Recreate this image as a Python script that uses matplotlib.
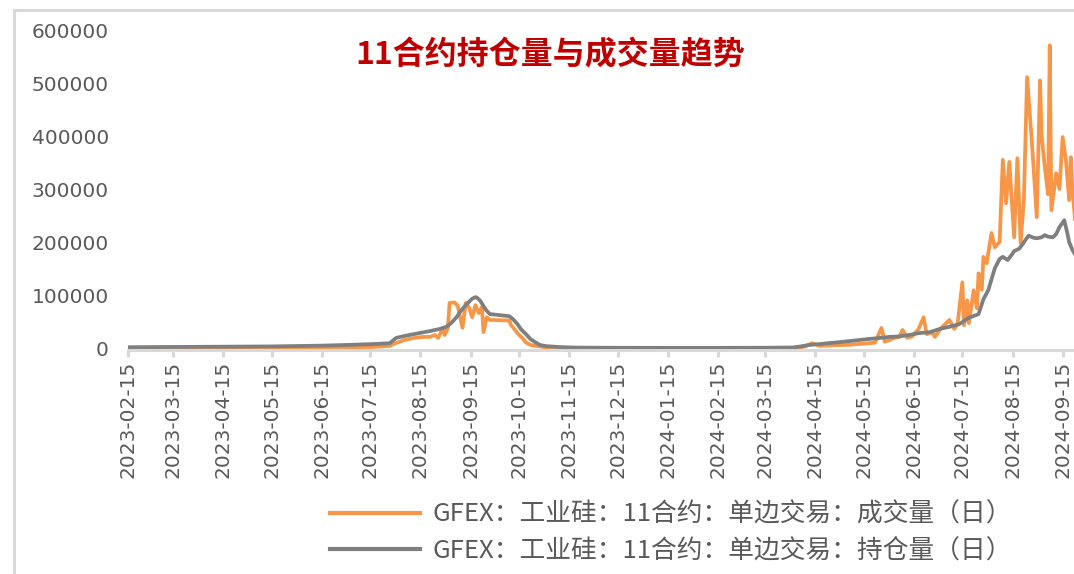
import matplotlib
matplotlib.use("Agg")
import matplotlib.pyplot as plt
import matplotlib.dates as mdates
from matplotlib.lines import Line2D
from matplotlib.font_manager import FontProperties
import pandas as pd

# 持仓量 (open interest)
oi_dates = [
    "2023-02-15", "2023-03-15", "2023-04-14", "2023-05-15", "2023-06-15",
    "2023-07-03", "2023-07-17", "2023-07-27", "2023-07-31", "2023-08-04",
    "2023-08-08", "2023-08-14", "2023-08-21", "2023-08-27", "2023-08-31",
    "2023-09-03", "2023-09-06", "2023-09-09", "2023-09-12", "2023-09-16",
    "2023-09-18", "2023-09-19", "2023-09-21", "2023-09-23", "2023-09-25",
    "2023-09-27", "2023-10-09", "2023-10-11", "2023-10-12", "2023-10-14",
    "2023-10-16", "2023-10-19", "2023-10-22", "2023-10-25", "2023-10-28",
    "2023-11-01", "2023-11-09", "2023-11-20", "2023-12-15", "2024-01-15",
    "2024-02-15", "2024-03-15", "2024-04-01", "2024-04-05", "2024-04-11",
    "2024-04-18", "2024-04-24", "2024-04-30", "2024-05-06", "2024-05-12",
    "2024-05-18", "2024-05-25", "2024-05-31", "2024-06-06", "2024-06-12",
    "2024-06-18", "2024-06-25", "2024-07-01", "2024-07-07", "2024-07-13",
    "2024-07-19", "2024-07-25", "2024-07-28", "2024-07-31", "2024-08-04",
    "2024-08-07", "2024-08-09", "2024-08-12", "2024-08-15", "2024-08-16",
    "2024-08-19", "2024-08-21", "2024-08-23", "2024-08-25", "2024-08-28",
    "2024-08-30", "2024-09-02", "2024-09-04", "2024-09-06", "2024-09-09",
    "2024-09-11", "2024-09-13", "2024-09-16", "2024-09-18", "2024-09-19",
    "2024-09-21", "2024-09-23",
]
oi_values = [
    1500, 2000, 2500, 3000, 4500,
    6000, 7500, 9000, 19000, 22000,
    24500, 28000, 32000, 36000, 40000,
    47000, 57000, 70000, 81000, 93000,
    96000, 95000, 89000, 79000, 70000,
    64000, 60000, 55000, 52000, 45000,
    36000, 27000, 17000, 11000, 5500,
    3500, 1800, 800, 400, 300,
    300, 500, 1000, 2500, 5700,
    7500, 9400, 11000, 13000, 15000,
    17000, 19000, 21000, 22000, 24500,
    28000, 30000, 36000, 40000, 45000,
    57000, 64000, 92000, 109000, 150000,
    168000, 172000, 166000, 178000, 183000,
    187000, 195000, 204000, 212000, 208000,
    207000, 209000, 213000, 210000, 209000,
    215000, 228000, 241000, 215000, 200000,
    185000, 175000,
]

# 成交量 (volume)
vol_dates = [
    "2023-02-15", "2023-04-14", "2023-06-15", "2023-07-17", "2023-07-27",
    "2023-07-31", "2023-08-05", "2023-08-11", "2023-08-17", "2023-08-21",
    "2023-08-24", "2023-08-26", "2023-08-29", "2023-08-30", "2023-09-01",
    "2023-09-02", "2023-09-05", "2023-09-07", "2023-09-10", "2023-09-12",
    "2023-09-14", "2023-09-16", "2023-09-18", "2023-09-20", "2023-09-22",
    "2023-09-23", "2023-09-25", "2023-09-27", "2023-10-09", "2023-10-10",
    "2023-10-12", "2023-10-15", "2023-10-17", "2023-10-19", "2023-10-22",
    "2023-10-26", "2023-10-30", "2023-11-06", "2023-11-15", "2024-04-03",
    "2024-04-09", "2024-04-13", "2024-04-18", "2024-04-26", "2024-05-06",
    "2024-05-14", "2024-05-22", "2024-05-26", "2024-05-28", "2024-05-31",
    "2024-06-03", "2024-06-06", "2024-06-08", "2024-06-11", "2024-06-14",
    "2024-06-18", "2024-06-21", "2024-06-23", "2024-06-26", "2024-06-28",
    "2024-07-02", "2024-07-07", "2024-07-10", "2024-07-12", "2024-07-15",
    "2024-07-16", "2024-07-18", "2024-07-19", "2024-07-22", "2024-07-24",
    "2024-07-25", "2024-07-27", "2024-07-28", "2024-07-30", "2024-08-02",
    "2024-08-04", "2024-08-07", "2024-08-09", "2024-08-11", "2024-08-13",
    "2024-08-16", "2024-08-18", "2024-08-20", "2024-08-22", "2024-08-24",
    "2024-08-27", "2024-08-30", "2024-09-01", "2024-09-02", "2024-09-04",
    "2024-09-06", "2024-09-07", "2024-09-08", "2024-09-11", "2024-09-13",
    "2024-09-15", "2024-09-17", "2024-09-19", "2024-09-20", "2024-09-21",
    "2024-09-23",
]
vol_values = [
    300, 500, 1000, 2000, 4000,
    9500, 15000, 19000, 21000, 21000,
    24500, 19000, 38000, 24500, 38000,
    85000, 86000, 80000, 38000, 85000,
    77000, 58000, 81000, 66000, 77000,
    30000, 58000, 53000, 52000, 43000,
    36000, 24500, 19000, 11000, 5700,
    3800, 1900, 500, 0, 0,
    3000, 9000, 4000, 5000, 6000,
    8000, 10000, 38000, 12000, 15000,
    19000, 21000, 34000, 19000, 22000,
    36000, 58000, 26000, 30000, 21000,
    38000, 53000, 36000, 45000, 124000,
    43000, 90000, 47000, 109000, 75000,
    141000, 110000, 172000, 160000, 217000,
    190000, 200000, 355000, 273000, 351000,
    209000, 358000, 198000, 279000, 511000,
    387000, 247000, 505000, 400000, 340000,
    290000, 571000, 260000, 330000, 300000,
    398000, 355000, 279000, 360000, 300000,
    230000,
]

title = "11合约持仓量与成交量趋势"
vol_label = "GFEX：工业硅：11合约：单边交易：成交量（日）"
oi_label = "GFEX：工业硅：11合约：单边交易：持仓量（日）"
tick_dates = pd.date_range("2023-02-01", "2024-09-01", freq="MS") + pd.Timedelta(days=14)

ORANGE = "#F79646"
GRAY = "#7F7F7F"
LIGHT = "#D9D9D9"
TEXT = "#595959"
cjk = ["Noto Sans CJK SC", "DejaVu Sans"]

W, H = 1074, 574
fig = plt.figure(figsize=(W / 100, H / 100), dpi=100)
# axes: left edge at x=127.6px, runs past the right edge of the picture
ax = fig.add_axes([127.6 / W, 1 - 349.5 / H, 1 - 127.6 / W, (349.5 - 30) / H])

ax.plot(pd.to_datetime(vol_dates), vol_values, color=ORANGE, lw=2.7)
ax.plot(pd.to_datetime(oi_dates), oi_values, color=GRAY, lw=2.7)

ax.set_xlim(pd.Timestamp("2023-02-15"), pd.Timestamp("2024-09-22"))
ax.set_ylim(-2800, 600000)
ax.set_yticks(range(0, 600001, 100000))
ax.set_yticklabels([str(v) for v in range(0, 600001, 100000)])
ax.set_xticks(tick_dates)
ax.xaxis.set_major_formatter(mdates.DateFormatter("%Y-%m-%d"))

for s in ["top", "right", "left"]:
    ax.spines[s].set_visible(False)
ax.spines["bottom"].set_color(LIGHT)
ax.spines["bottom"].set_linewidth(2.2)

ax.tick_params(axis="y", length=0, pad=13.5, labelsize=14.5, labelcolor=TEXT)
ax.tick_params(axis="x", length=5, width=2.2, color=LIGHT, pad=3,
               labelsize=14.5, labelcolor=TEXT, labelrotation=90)

# outer frame (left and top edges only are inside the picture)
fig.add_artist(Line2D([14 / W, 14 / W], [0, 1 - 10 / H], color=LIGHT, lw=2.2,
                      transform=fig.transFigure))
fig.add_artist(Line2D([14 / W, 1], [1 - 10 / H, 1 - 10 / H], color=LIGHT, lw=2.2,
                      transform=fig.transFigure))

fig.text(550 / W, 1 - 55 / H, title, ha="center", va="center",
         color="#C00000", fontsize=23, fontweight="bold", family=cjk)

handles = [Line2D([], [], color=ORANGE, lw=3), Line2D([], [], color=GRAY, lw=3)]
leg = ax.legend(handles, [vol_label, oi_label], loc="upper left",
                bbox_to_anchor=(330 / W, 1 - 502 / H), bbox_transform=fig.transFigure,
                frameon=False, prop=FontProperties(family=cjk, size=18.5),
                labelcolor=TEXT, handlelength=3.5, handletextpad=0.47,
                labelspacing=0.38, borderpad=0, borderaxespad=0)

fig.savefig("out.png", dpi=100)
